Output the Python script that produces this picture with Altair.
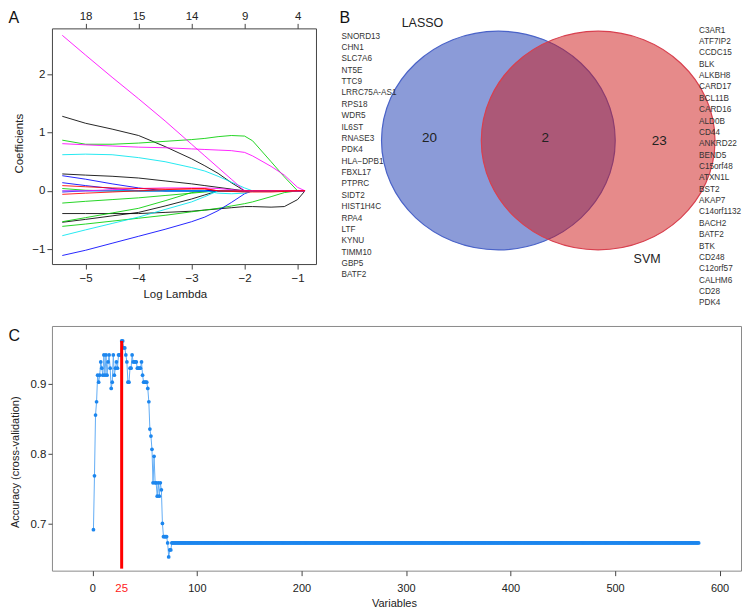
import altair as alt
import pandas as pd

FONT = "Liberation Sans"
TXT = "#222222"

# ---------------- Panel A : LASSO coefficient paths ----------------
lam_grid = [-5.44, -5.0, -4.5, -4.0, -3.5, -3.0, -2.75, -2.5, -2.25, -2.0, -1.85, -1.5, -1.25, -1.0, -0.86]

coef_blk1 = [1.28, 1.16, 1.06, 0.95, 0.76, 0.55, 0.43, 0.30, 0.14, 0.0, 0.0, 0.0, 0.0, 0.0, 0.0]
coef_blk2 = [0.29, 0.27, 0.25, 0.22, 0.17, 0.12, 0.09, 0.06, 0.03, 0.0, 0.0, 0.0, 0.0, 0.0, 0.0]
coef_blk3 = [-0.39, -0.39, -0.39, -0.39, -0.37, -0.35, -0.33, -0.31, -0.29, -0.27, -0.27, -0.28, -0.27, -0.15, 0.0]
coef_blk4 = [-0.54, -0.49, -0.43, -0.37, -0.26, -0.14, -0.07, 0.0, 0.0, 0.0, 0.0, 0.0, 0.0, 0.0, 0.0]
coef_grn1 = [0.87, 0.80, 0.80, 0.82, 0.85, 0.88, 0.90, 0.93, 0.95, 0.94, 0.86, 0.50, 0.24, 0.0, 0.0]
coef_grn2 = [-0.21, -0.18, -0.15, -0.12, -0.08, -0.04, -0.02, 0.0, 0.0, 0.0, 0.0, 0.0, 0.0, 0.0, 0.0]
coef_grn3 = [-0.53, -0.46, -0.38, -0.30, -0.17, -0.03, 0.0, 0.0, 0.0, 0.0, 0.0, 0.0, 0.0, 0.0, 0.0]
coef_grn4 = [-0.61, -0.57, -0.52, -0.47, -0.42, -0.36, -0.33, -0.30, -0.26, -0.22, -0.19, -0.10, -0.03, 0.0, 0.0]
coef_grn5 = [0.04, 0.01, 0.0, 0.0, 0.0, 0.0, 0.0, 0.0, 0.0, 0.0, 0.0, 0.0, 0.0, 0.0, 0.0]
coef_blu1 = [0.26, 0.20, 0.12, 0.05, 0.0, 0.0, 0.0, 0.0, 0.0, 0.0, 0.0, 0.0, 0.0, 0.0, 0.0]
coef_blu2 = [0.14, 0.09, 0.04, 0.0, 0.0, 0.0, 0.0, 0.0, 0.0, 0.0, 0.0, 0.0, 0.0, 0.0, 0.0]
coef_blu3 = [-1.11, -1.02, -0.90, -0.78, -0.66, -0.53, -0.45, -0.34, -0.20, -0.05, 0.0, 0.0, 0.0, 0.0, 0.0]
coef_blu4 = [-0.02, 0.0, 0.0, 0.0, 0.0, 0.0, 0.0, 0.0, 0.0, 0.0, 0.0, 0.0, 0.0, 0.0, 0.0]
coef_cyn1 = [0.62, 0.63, 0.62, 0.57, 0.50, 0.40, 0.34, 0.25, 0.15, 0.05, 0.0, 0.0, 0.0, 0.0, 0.0]
coef_cyn2 = [-0.77, -0.67, -0.56, -0.45, -0.32, -0.19, -0.10, 0.0, 0.0, 0.0, 0.0, 0.0, 0.0, 0.0, 0.0]
coef_cyn3 = [0.0, 0.0, 0.0, 0.0, 0.0, 0.0, 0.0, -0.04, -0.05, -0.04, 0.0, 0.0, 0.0, 0.0, 0.0]
coef_mag1 = [2.67, 2.33, 1.95, 1.58, 1.20, 0.80, 0.60, 0.40, 0.20, 0.0, 0.0, 0.0, 0.0, 0.0, 0.0]
coef_mag2 = [0.81, 0.79, 0.77, 0.75, 0.74, 0.72, 0.71, 0.70, 0.69, 0.66, 0.60, 0.42, 0.27, 0.06, 0.0]
coef_mag3 = [0.0, 0.0, 0.02, 0.04, 0.05, 0.05, 0.05, 0.04, 0.02, 0.0, 0.0, 0.0, 0.0, 0.0, 0.0]
coef_red1 = [0.09, 0.07, 0.05, 0.04, 0.03, 0.03, 0.03, 0.0, 0.0, 0.0, 0.0, 0.0, 0.0, 0.0, 0.0]
coef_red2 = [-0.06, -0.04, -0.02, 0.0, 0.02, 0.04, 0.04, 0.0, -0.01, -0.02, -0.02, -0.02, -0.01, 0.0, 0.0]

path_names = ["blk1", "blk2", "blk3", "blk4", "grn1", "grn2", "grn3", "grn4", "grn5",
              "blu1", "blu2", "blu3", "blu4", "cyn1", "cyn2", "cyn3",
              "mag1", "mag2", "mag3", "red1", "red2"]
path_values = [coef_blk1, coef_blk2, coef_blk3, coef_blk4, coef_grn1, coef_grn2, coef_grn3,
               coef_grn4, coef_grn5, coef_blu1, coef_blu2, coef_blu3, coef_blu4, coef_cyn1,
               coef_cyn2, coef_cyn3, coef_mag1, coef_mag2, coef_mag3, coef_red1, coef_red2]
palette = {"blk": "#000000", "grn": "#00CD00", "blu": "#0000FF", "cyn": "#00E5EE",
           "mag": "#FF00FF", "red": "#FF0000"}
path_colors = [palette[n[:3]] for n in path_names]

top_lam = [-5, -4, -3, -2, -1]
top_nonzero = ["18", "15", "14", "9", "4"]
bottom_lam = [-5, -4, -3, -2, -1]
coef_ticks = [-1, 0, 1, 2]

rowsA = []
for k, (name, vals) in enumerate(zip(path_names, path_values)):
    for lam, v in zip(lam_grid, vals):
        rowsA.append({"path": name, "order": k, "loglam": lam, "coef": v})
dfA = pd.DataFrame(rowsA)

WA, HA = 264.4, 236
xA = alt.Scale(domain=[-5.635, -0.653], nice=False, zero=False)
yA = alt.Scale(domain=[-1.257, 2.789], nice=False, zero=False)

linesA = alt.Chart(dfA).mark_line(strokeWidth=1, opacity=0.85).encode(
    x=alt.X("loglam:Q", scale=xA,
            axis=alt.Axis(orient="bottom", values=bottom_lam, format="d", title="Log Lambda",
                          tickSize=5, labelPadding=3, labelFontSize=11.5, titleFontSize=11.5,
                          titleX=123, titleY=30, titleBaseline="middle")),
    y=alt.Y("coef:Q", scale=yA,
            axis=alt.Axis(values=coef_ticks, format="d", title="Coefficients",
                          tickSize=5, labelPadding=2, labelFontSize=11.5, titleFontSize=11.5,
                          titleX=-32.5, titleY=115, titleBaseline="middle")),
    color=alt.Color("path:N", scale=alt.Scale(domain=path_names, range=path_colors), legend=None),
    detail="path:N",
    order="order:Q",
)

expr = " : ".join(f"datum.value == {v} ? '{t}'" for v, t in zip(top_lam, top_nonzero)) + " : ''"
topA = alt.Chart(pd.DataFrame({"lam": top_lam})).mark_point(opacity=0).encode(
    x=alt.X("lam:Q", scale=xA,
            axis=alt.Axis(orient="top", values=top_lam, labelExpr=expr, title=None,
                          tickSize=5, labelPadding=2, labelFontSize=11.5)),
)

letters = ["A", "B", "C"]
letterA = alt.Chart(pd.DataFrame({"t": [letters[0]]})).mark_text(
    fontSize=16, align="left", baseline="alphabetic", color="#111").encode(
    x=alt.value(-43.5), y=alt.value(-5.7), text="t:N")

panelA = alt.layer(linesA, topA, letterA).resolve_axis(x="independent").properties(
    width=WA, height=HA, view=alt.ViewBackground(stroke="#444444", strokeWidth=1))

# ---------------- Panel B : Venn ----------------
lasso_genes = ["SNORD13", "CHN1", "SLC7A6", "NT5E", "TTC9", "LRRC75A-AS1", "RPS18", "WDR5",
               "IL6ST", "RNASE3", "PDK4", "HLA\u2212DPB1", "FBXL17", "PTPRC", "SIDT2",
               "HIST1H4C", "RPA4", "LTF", "KYNU", "TIMM10", "GBP5", "BATF2"]
svm_genes = ["C3AR1", "ATF7IP2", "CCDC15", "BLK", "ALKBH8", "CARD17", "BCL11B", "CARD16",
             "ALD0B", "CD44", "ANKRD22", "BEND5", "C15orf48", "ATXN1L", "BST2", "AKAP7",
             "C14orf1132", "BACH2", "BATF2", "BTK", "CD248", "C12orf57", "CALHM6", "CD28", "PDK4"]
set_names = ["LASSO", "SVM"]
set_cx = [-0.427, 0.427]
set_fill = ["#1737B1", "#CD1515"]
set_stroke = ["#4A63C8", "#D8404F"]
set_label_x = [-1.077, 0.846]
set_label_y = [1.073, -1.082]
region_counts = [20, 2, 23]
region_x = [-1.017, -0.026, 0.95]
region_y = [0.02, 0.02, 0.0]

WB, HB = 408, 280
xB = alt.Scale(domain=[-1.8547, 1.6325], nice=False, zero=False)
yB = alt.Scale(domain=[-1.5245, 1.021], nice=False, zero=False)
ELL = "M -1 0 A 1 0.936 0 1 0 1 0 A 1 0.936 0 1 0 -1 0 Z"

ell = alt.Chart(pd.DataFrame({"set": set_names, "cx": set_cx, "cy": [0, 0]})).mark_point(
    shape=ELL, filled=True, opacity=1, fillOpacity=0.5, strokeWidth=1.2, strokeOpacity=1).encode(
    x=alt.X("cx:Q", scale=xB, axis=None),
    y=alt.Y("cy:Q", scale=yB, axis=None),
    fill=alt.Fill("set:N", scale=alt.Scale(domain=set_names, range=set_fill), legend=None),
    stroke=alt.Stroke("set:N", scale=alt.Scale(domain=set_names, range=set_stroke), legend=None),
    size=alt.value(234 * 234),
)
counts = alt.Chart(pd.DataFrame({"n": region_counts, "rx": region_x, "ry": region_y})).mark_text(
    fontSize=13.5, color=TXT, baseline="middle").encode(
    x=alt.X("rx:Q", scale=xB, axis=None), y=alt.Y("ry:Q", scale=yB, axis=None), text="n:Q")
setlab = alt.Chart(pd.DataFrame({"s": set_names, "lx": set_label_x, "ly": set_label_y})).mark_text(
    fontSize=12.5, color=TXT, baseline="middle").encode(
    x=alt.X("lx:Q", scale=xB, axis=None), y=alt.Y("ly:Q", scale=yB, axis=None), text="s:N")
g1 = alt.Chart(pd.DataFrame({"g": lasso_genes, "i": list(range(len(lasso_genes)))})).mark_text(
    fontSize=8.2, color="#333", align="left", baseline="middle").encode(
    x=alt.value(10),
    y=alt.Y("i:Q", scale=alt.Scale(domain=[0, len(lasso_genes) - 1], range=[8.3, 247.3]), axis=None),
    text="g:N")
g2 = alt.Chart(pd.DataFrame({"g": svm_genes, "i": list(range(len(svm_genes)))})).mark_text(
    fontSize=8.2, color="#333", align="left", baseline="middle").encode(
    x=alt.value(368),
    y=alt.Y("i:Q", scale=alt.Scale(domain=[0, len(svm_genes) - 1], range=[2.3, 275.3]), axis=None),
    text="g:N")
letterB = alt.Chart(pd.DataFrame({"t": [letters[1]]})).mark_text(
    fontSize=16, align="left", baseline="alphabetic", color="#111").encode(
    x=alt.value(8), y=alt.value(-5.7), text="t:N")

panelB = alt.layer(ell, counts, setlab, g1, g2, letterB).resolve_scale(y="independent").properties(
    width=WB, height=HB, view=alt.ViewBackground(stroke="transparent"))

# ---------------- Panel C : SVM-RFE accuracy ----------------
acc_head = [0.692, 0.769, 0.856, 0.875, 0.913, 0.903, 0.913, 0.932, 0.923, 0.913,
            0.942, 0.913, 0.942, 0.913, 0.932, 0.942, 0.923, 0.894, 0.903, 0.942,
            0.913, 0.923, 0.932, 0.923, 0.942, 0.942, 0.942, 0.962, 0.962, 0.952,
            0.952, 0.942, 0.932, 0.903, 0.903, 0.923, 0.923, 0.942, 0.932, 0.932,
            0.932, 0.932, 0.923, 0.923, 0.923, 0.923, 0.932, 0.913, 0.903, 0.903,
            0.903, 0.903, 0.894, 0.875, 0.836, 0.826, 0.807, 0.759, 0.797, 0.759,
            0.759, 0.740, 0.759, 0.740, 0.759, 0.749, 0.701, 0.682, 0.682, 0.682,
            0.682, 0.673, 0.653, 0.663, 0.663]
n_vars_total = 580
acc_tail_value = 0.673
accuracy = acc_head + [acc_tail_value] * (n_vars_total - len(acc_head))
n_vars = list(range(1, n_vars_total + 1))
best_label = "25"
x_ticks_C = [0, 100, 200, 300, 400, 500, 600]
y_ticks_C = [0.7, 0.8, 0.9]

dfC = pd.DataFrame({"n": n_vars, "acc": accuracy})
best_i = max(range(len(accuracy)), key=lambda i: accuracy[i])
peak_df = pd.DataFrame({"n": [n_vars[best_i]], "acc": [accuracy[best_i]], "lab": [best_label]})

WC, HC = 690, 245
xC = alt.Scale(domain=[-38.7, 620.5], nice=False, zero=False)
yC = alt.Scale(domain=[0.6334, 0.9834], nice=False, zero=False)

xC_enc = alt.X("n:Q", scale=xC,
               axis=alt.Axis(values=x_ticks_C, format="d", title="Variables", tickSize=5,
                             labelPadding=7, labelFontSize=11, titleFontSize=11,
                             titleX=342.5, titleY=33, titleBaseline="middle"))
yC_enc = alt.Y("acc:Q", scale=yC,
               axis=alt.Axis(values=y_ticks_C, format=".1f", title="Accuracy (cross-validation)",
                             tickSize=4, labelPadding=2, labelFontSize=11.5, titleFontSize=11,
                             titleX=-36.2, titleY=136, titleBaseline="middle"))

lineC = alt.Chart(dfC).mark_line(color="#62ADF5", strokeWidth=1).encode(x=xC_enc, y=yC_enc)
ptsC = alt.Chart(dfC).mark_circle(color="#1C86EE", size=14, opacity=1).encode(x="n:Q", y="acc:Q")
ruleC = alt.Chart(peak_df).mark_rule(color="#FF0000", strokeWidth=3).encode(
    x="n:Q", y="acc:Q", y2=alt.value(243))
lab25 = alt.Chart(peak_df).mark_text(color="#FF2020", fontSize=11.5, baseline="top").encode(
    x="n:Q", y=alt.value(HC + 12), text="lab:N")
letterC = alt.Chart(pd.DataFrame({"t": [letters[2]]})).mark_text(
    fontSize=16, align="left", baseline="alphabetic", color="#111").encode(
    x=alt.value(-43.5), y=alt.value(14.7), text="t:N")

panelC = alt.layer(lineC, ptsC, ruleC, lab25, letterC).properties(
    width=WC, height=HC, view=alt.ViewBackground(stroke="#8a8a8a", strokeWidth=1))

chart = alt.vconcat(
    alt.hconcat(panelA, panelB, spacing=14),
    panelC,
    spacing=16,
).properties(
    padding={"left": 0, "top": 0, "right": 0, "bottom": 0},
    autosize=alt.AutoSizeParams(type="pad"),
).configure_axis(
    grid=False, domain=False, labelFont=FONT, titleFont=FONT, labelColor=TXT,
    titleColor=TXT, tickColor="#444444", titleFontWeight="normal",
).configure_text(font=FONT)

chart.save("out.html", embed_options={"renderer": "svg", "actions": False})
